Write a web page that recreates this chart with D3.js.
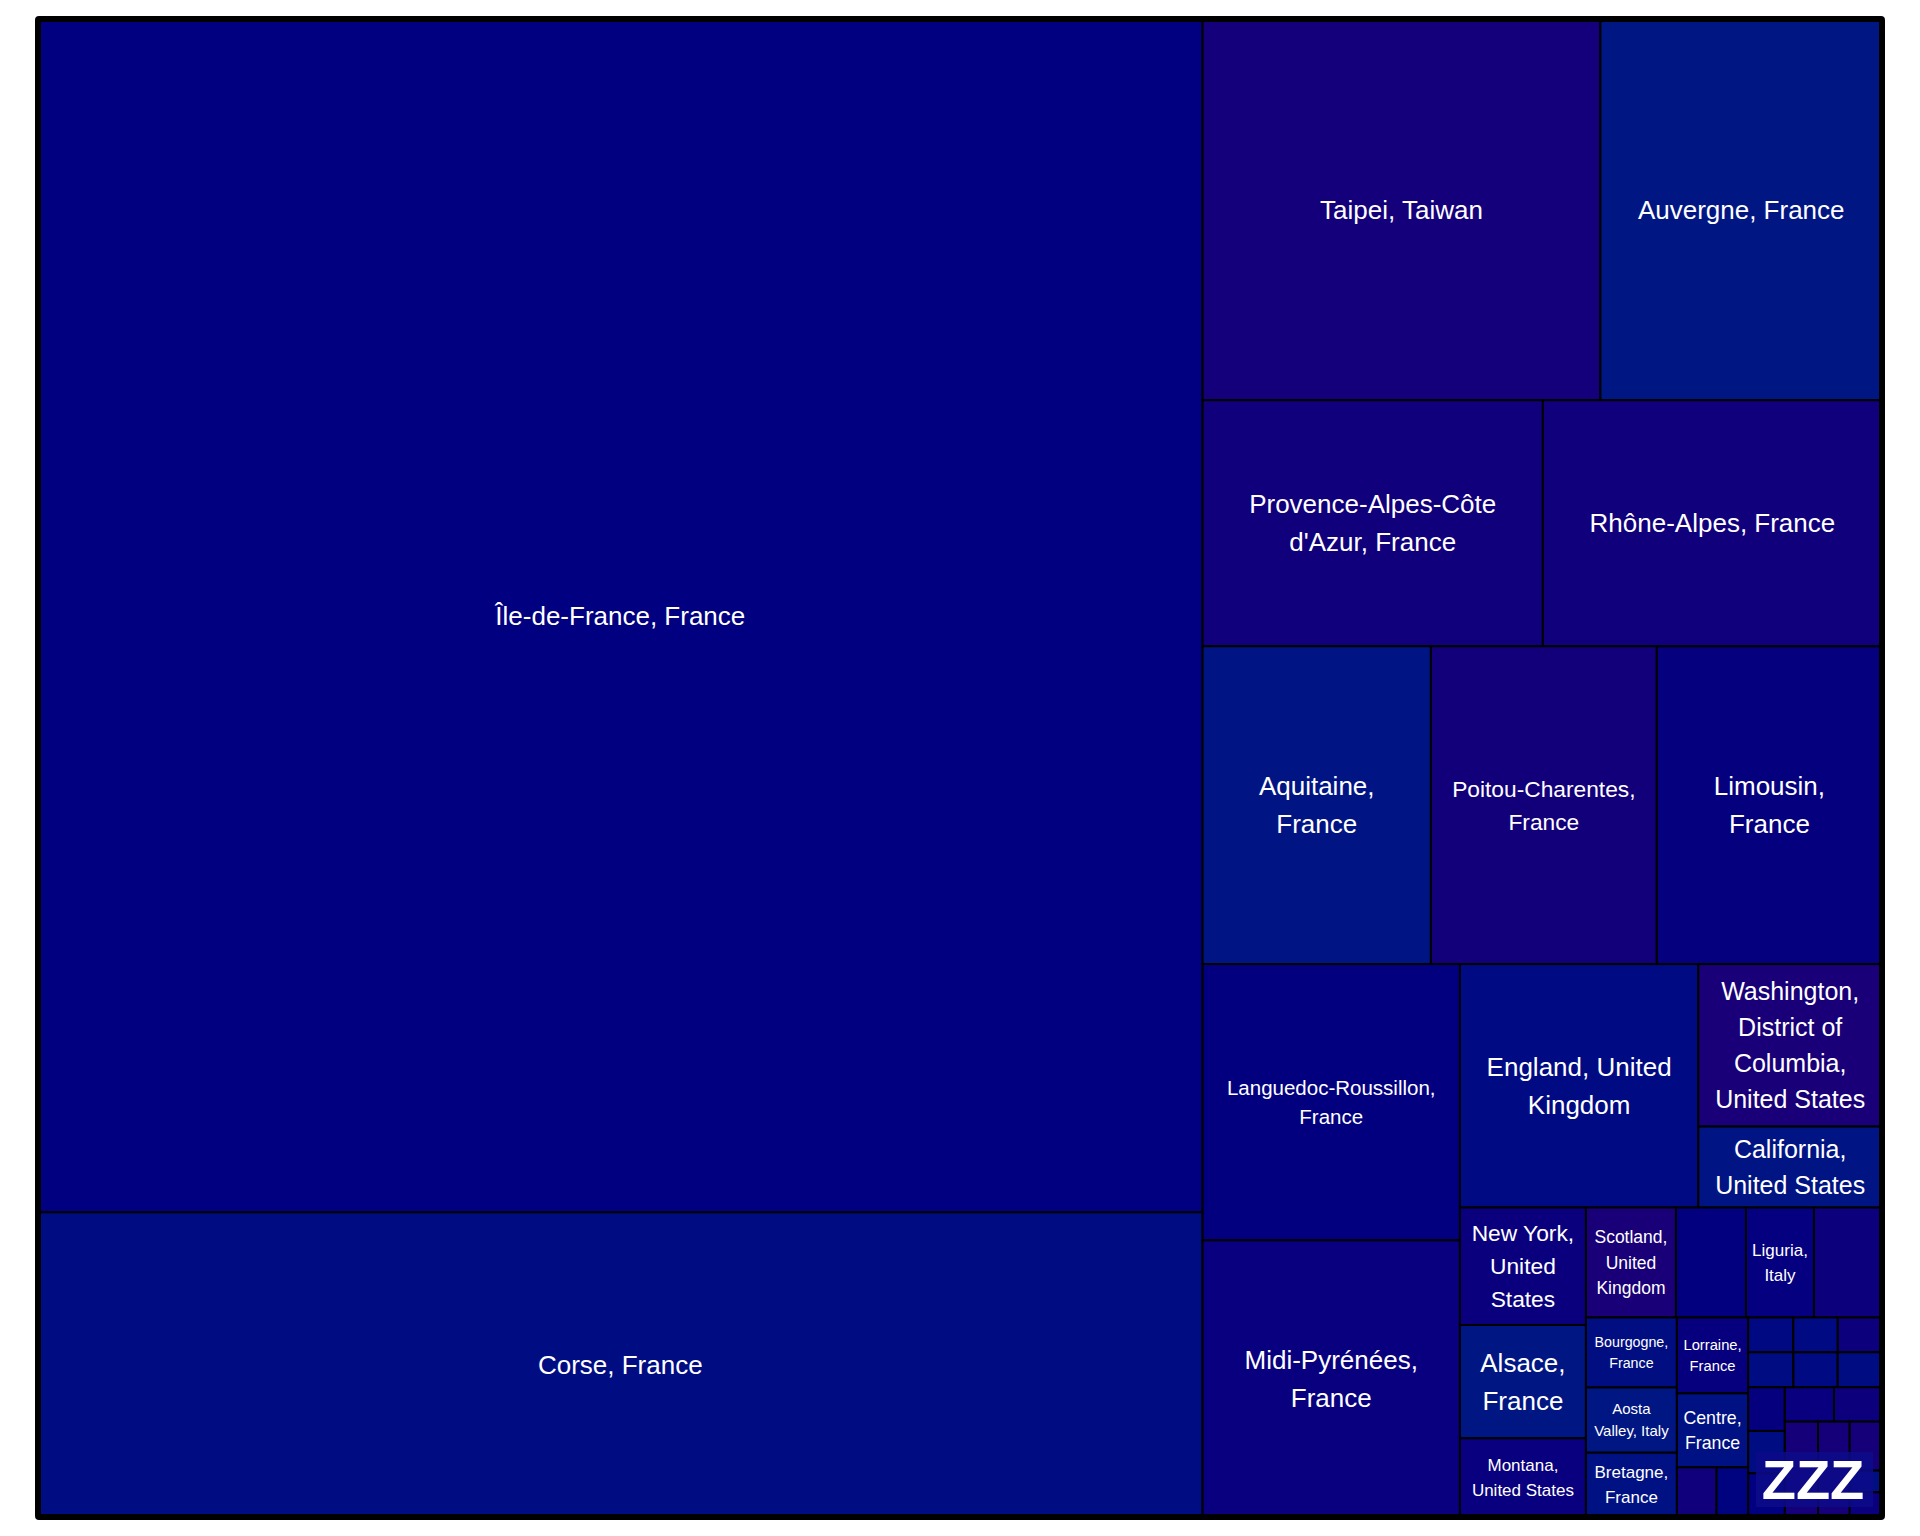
<!DOCTYPE html>
<html>
<head>
<meta charset="utf-8">
<script src="https://cdn.jsdelivr.net/npm/d3@7"></script>
<style>
  html, body { margin: 0; padding: 0; background: #ffffff; }
  svg { display: block; }
</style>
</head>
<body>
<svg id="chart" width="1920" height="1536"></svg>
<script>
// ---- data ----
const regions = [
  "Île-de-France, France", "Corse, France", "Taipei, Taiwan", "Auvergne, France",
  "Provence-Alpes-Côte d'Azur, France", "Rhône-Alpes, France", "Aquitaine, France",
  "Poitou-Charentes, France", "Limousin, France", "Languedoc-Roussillon, France",
  "Midi-Pyrénées, France", "England, United Kingdom",
  "Washington, District of Columbia, United States", "California, United States",
  "New York, United States", "Alsace, France", "Montana, United States",
  "Scotland, United Kingdom", "Nord-Pas-de-Calais, France", "Liguria, Italy",
  "Champagne-Ardenne, France", "Bourgogne, France", "Aosta Valley, Italy",
  "Bretagne, France", "Lorraine, France", "Centre, France",
  "Basse-Normandie, France", "Haute-Normandie, France", "Franche-Comté, France",
  "Pays de la Loire, France", "Picardie, France", "Lombardy, Italy",
  "Brussels, Belgium", "Geneva, Switzerland", "Quebec, Canada", "Ontario, Canada",
  "Catalonia, Spain", "Bavaria, Germany", "Berlin, Germany",
  "Massachusetts, United States", "Texas, United States", "Lazio, Italy",
  "Madrid, Spain", "Tokyo, Japan"
];
const visits = [
  138984, 35488, 15168, 10734, 8374, 8347, 7256, 7180, 7158, 7109,
  7120, 5805, 2984, 1487, 1481, 1428, 992, 990, 770, 748,
  748, 637, 593, 585, 541, 528, 197, 157, 157, 155,
  154, 158, 155, 155, 160, 155, 160, 169, 165, 317,
  302, 158, 70, 80
];
// colour metric (-1 = blue, 0 = navy, 1 = indigo)
const tone = [
  0, -0.45, 0.75, -0.85, 0.65, 0.65, -0.8, 0.7, 0.2, 0.1,
  0.3, -0.4, 0.95, -0.75, 0.4, -0.85, 0.3, 0.95, 0.1, 0.15,
  0.5, -0.55, -0.85, -0.7, 0.25, -0.65, 0.6, -0.1, -0.35, -0.4,
  0.45, -0.5, -0.4, -0.5, 0.2, -0.5, 0.0, 0.3, 0.5, 0.85,
  0.85, 0.85, -0.6, 0.4
];
// strips of the treemap, outermost first (indices into regions)
const strips = [
  [0, 1], [2, 3], [4, 5], [6, 7, 8], [9, 10], [11, [12, 13]], [14, 15, 16],
  [17, 18, 19, 20], [21, 22, 23], [24, 25, [26, 27]], [28, 29, 30],
  [31, 32, 33], [34, 35, 36], [37, 38], [39, 40, [41, 42, 43]]
];
const watermark = "ZZZ";

// ---- hierarchy ----
const nested = strips.reduceRight((rest, g) => rest ? [g, rest] : g, null);
function build(n) {
  if (Array.isArray(n)) return { children: n.map(build) };
  return { idx: n, name: regions[n], value: visits[n], tone: tone[n] };
}
const root = d3.hierarchy(build(nested)).sum(d => d.value || 0);

const X0 = 38, Y0 = 19, W = 1844, H = 1498;
function tile(node, x0, y0, x1, y1) {
  ((x1 - x0) > (y1 - y0) ? d3.treemapDice : d3.treemapSlice)(node, x0, y0, x1, y1);
}
d3.treemap().tile(tile).size([W, H]).round(false)(root);

const color = d3.scaleLinear().domain([-1, 0, 1]).range(["#001a84", "#000080", "#1a0078"]);

const svg = d3.select("#chart");
const g = svg.append("g").attr("transform", `translate(${X0},${Y0})`);
const leaves = root.leaves();

g.selectAll("rect.cell").data(leaves).join("rect")
  .attr("class", "cell")
  .attr("x", d => d.x0).attr("y", d => d.y0)
  .attr("width", d => d.x1 - d.x0).attr("height", d => d.y1 - d.y0)
  .attr("fill", d => color(d.data.tone))
  .attr("stroke", "#000").attr("stroke-width", 2);

// ---- label fitting ----
const FONT = '"Liberation Sans", Arial, Helvetica, sans-serif';
const ctx = document.createElement("canvas").getContext("2d");
ctx.font = `100px ${FONT}`;
const mw = t => ctx.measureText(t).width / 100;
function wrap(words, fs, maxW) {
  const lines = []; let cur = "";
  for (const w of words) {
    const t = cur ? cur + " " + w : w;
    if (mw(t) * fs <= maxW) cur = t;
    else { if (cur) lines.push(cur); cur = w; }
  }
  if (cur) lines.push(cur);
  return lines;
}
const LH = 1.45;
function fit(name, w, h) {
  const words = name.split(" ");
  const maxW = w * 0.82, maxH = h * 0.9;
  for (let fs = 26; fs >= 12.5; fs -= 0.25) {
    const lines = wrap(words, fs, maxW);
    if (lines.every(l => mw(l) * fs <= maxW) && lines.length * fs * LH <= maxH) return { fs, lines };
  }
  return null;
}

leaves.forEach(d => {
  const w = d.x1 - d.x0, h = d.y1 - d.y0;
  const f = fit(d.data.name, w, h);
  if (!f) return;
  const cx = (d.x0 + d.x1) / 2, cy = (d.y0 + d.y1) / 2;
  const t = g.append("text")
    .attr("text-anchor", "middle")
    .attr("fill", "#ffffff")
    .style("font-family", FONT)
    .style("font-size", f.fs + "px");
  f.lines.forEach((line, i) => {
    t.append("tspan")
      .attr("x", cx)
      .attr("y", cy + (i - (f.lines.length - 1) / 2) * f.fs * LH)
      .attr("dy", "0.35em")
      .text(line);
  });
});

// frame
svg.append("rect")
  .attr("x", X0).attr("y", Y0).attr("width", W).attr("height", H)
  .attr("fill", "none").attr("stroke", "#000").attr("stroke-width", 6).attr("rx", 1);

// watermark
const wmX = 1813, wmBase = 1499;
svg.append("rect")
  .attr("x", wmX - 57).attr("y", wmBase - 47).attr("width", 117).attr("height", 55)
  .attr("fill", "#0c0a8a").attr("opacity", 0.85);
svg.append("text")
  .attr("x", wmX).attr("y", wmBase)
  .attr("text-anchor", "middle")
  .attr("fill", "#ffffff")
  .style("font-family", FONT)
  .style("font-weight", "bold")
  .style("font-size", "56px")
  .text(watermark);
</script>
</body>
</html>
